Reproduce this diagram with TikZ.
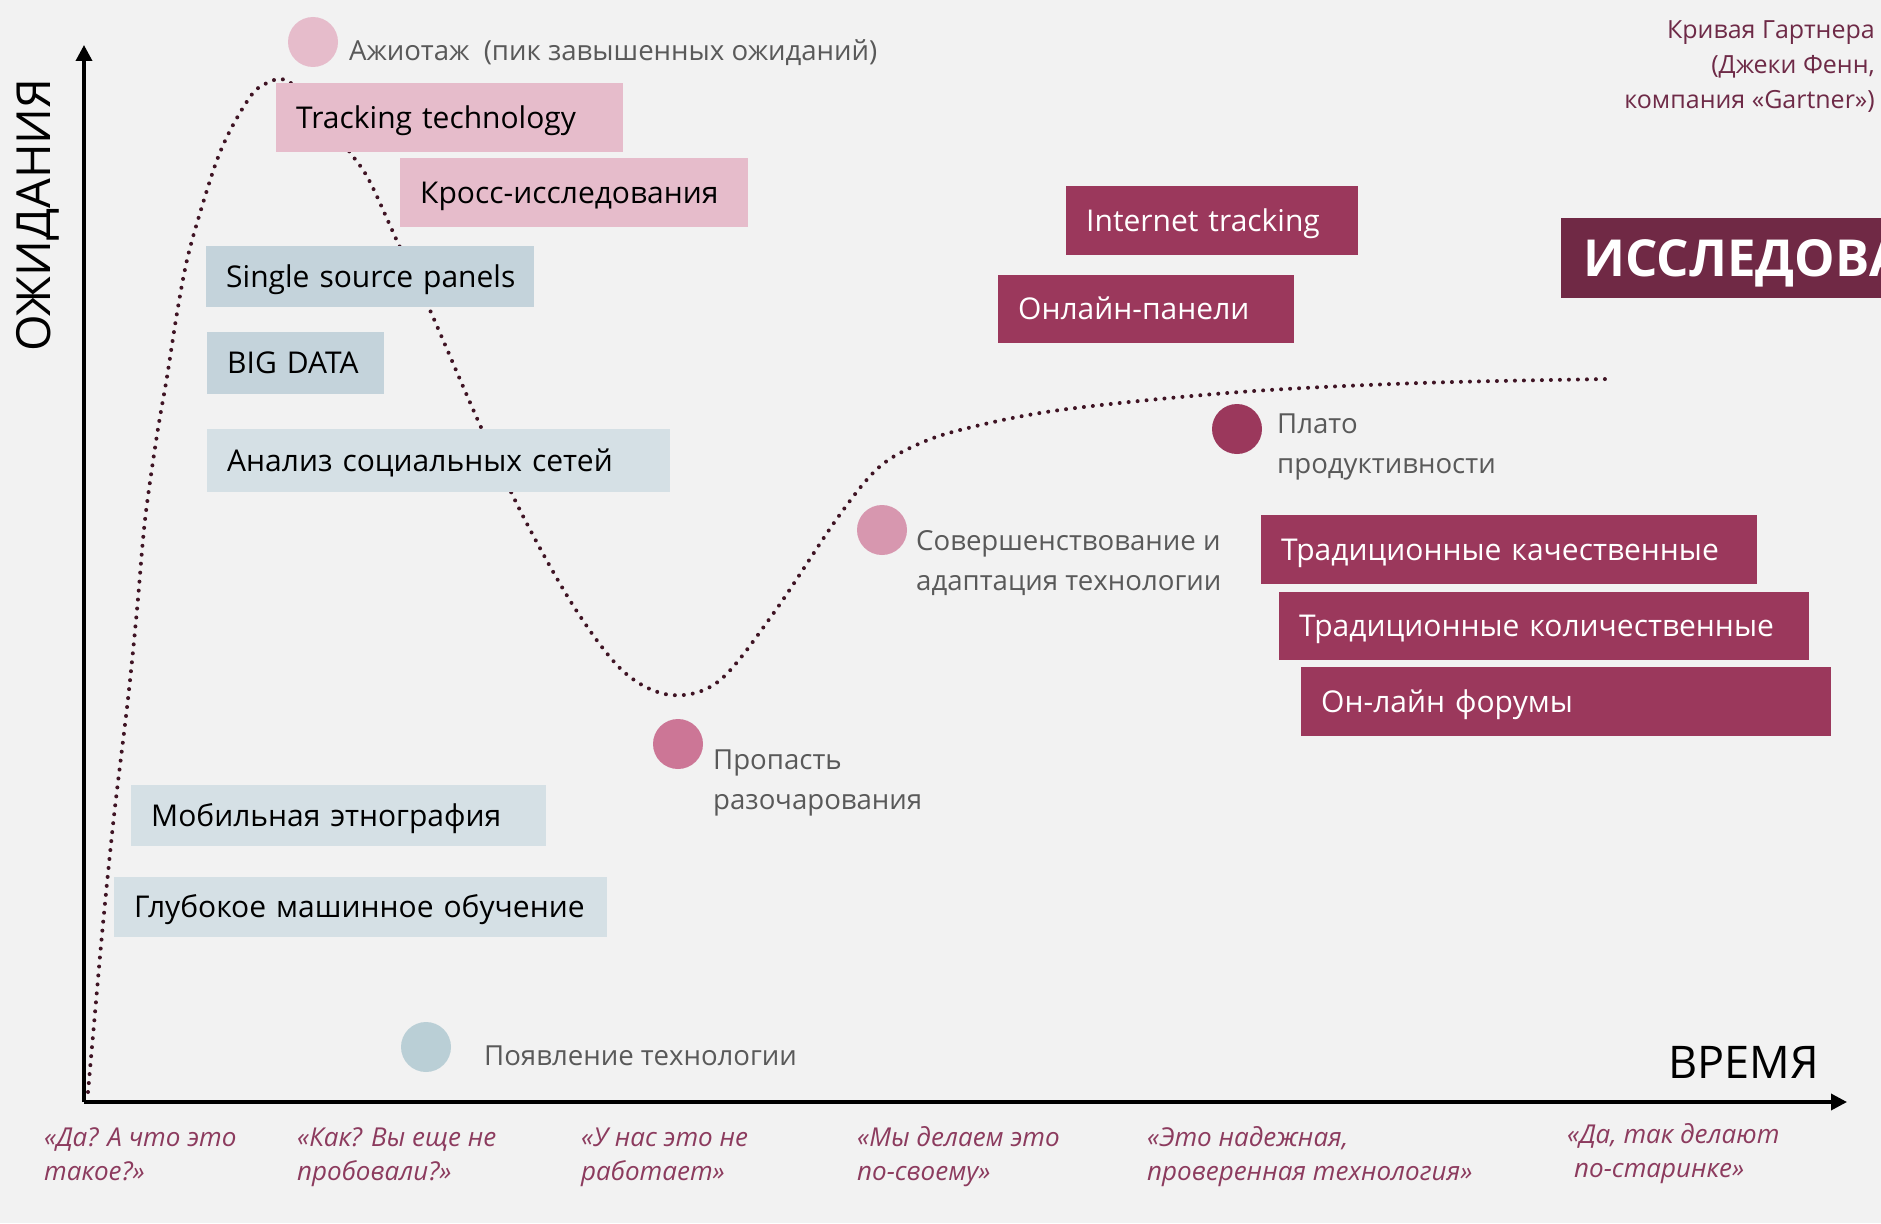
\documentclass[tikz,border=0pt]{standalone}
\usepackage{fontspec}
\setmainfont{Open Sans}
\usetikzlibrary{arrows.meta}
\definecolor{bgcol}{HTML}{F2F2F2}
\definecolor{pinkb}{HTML}{E6BCCB}
\definecolor{blued}{HTML}{C4D3DB}
\definecolor{bluel}{HTML}{D5E0E5}
\definecolor{maroon}{HTML}{9B385C}
\definecolor{darkm}{HTML}{702945}
\definecolor{quotec}{HTML}{8C3B5E}
\definecolor{capc}{HTML}{6E2A47}
\definecolor{grayt}{HTML}{595959}
\definecolor{dotc}{HTML}{3F1424}
\definecolor{cEmerg}{HTML}{BACFD6}
\definecolor{cTrough}{HTML}{CC7696}
\definecolor{cSlope}{HTML}{D797AF}
\newcommand{\twolines}[2]{\begin{tabular}[t]{@{}l@{}}#1\\#2\end{tabular}}
\tikzset{
  boxbase/.style={anchor=north west, inner xsep=20pt, inner ysep=0pt, align=left,
    text height=21.5pt, text depth=0pt, font=\fontsize{30}{34}\selectfont},
  pinkbox/.style={boxbase, fill=pinkb, text=black},
  bluedbox/.style={boxbase, fill=blued, text=black},
  bluelbox/.style={boxbase, fill=bluel, text=black},
  marbox/.style={boxbase, fill=maroon, text=white},
  lbl/.style={anchor=base west, inner sep=0pt, text=grayt, font=\fontsize{27.6}{40}\selectfont},
  quote/.style={anchor=base west, inner sep=0pt, text=quotec, font=\fontsize{26}{34}\itshape\selectfont},
  phase/.style={circle, inner sep=0pt, minimum size=50pt},
  axis/.style={line width=3.5pt, -{Triangle[length=16pt,width=16pt]}},
  hype/.style={dotc, line width=4pt, line cap=round, dash pattern=on 0pt off 9pt}
}
\begin{document}
\begin{tikzpicture}[x=1pt,y=-1pt]
\useasboundingbox (0,0) rectangle (1881,1223);
\fill[bgcol] (0,0) rectangle (1881,1223);

% hype curve
\draw[hype] plot[smooth, tension=0.55] coordinates {
 (88,1092) (95,1013) (103,924) (114,816) (128,699) (137,610) (145,520) (157,435)
 (167,377) (177,313) (187,260) (200,213) (217,160) (233,125) (253,93) (267,83)
 (280,79) (292,84) (318,112) (352,155) (370,182) (398,243) (429,308) (480,425)
 (525,520) (576,610) (624,672) (671,695) (719,681) (773,614) (836,520)
 (876,470) (912,447) (960,430) (1060,410) (1240,392) (1420,383) (1609,379)};

% axes
\coordinate (O) at (84,1102);
\coordinate (ytop) at (84,45);
\coordinate (xend) at (1847,1102);
\draw[axis] (O) -- (ytop);
\draw[axis] (O) -- (xend);

\node[rotate=90, inner sep=0pt, text height=34pt, text depth=0pt,
  font=\fontsize{47}{47}\selectfont] (ylab) at (33,215) {ОЖИДАНИЯ};
\node[anchor=base west, inner sep=0pt, font=\fontsize{45}{45}\selectfont] (xlab) at (1668,1078) {ВРЕМЯ};

% caption
\node[anchor=base east, inner sep=0pt, text=capc, font=\fontsize{25}{35}\selectfont] (cap) at (1875,39)
  {\begin{tabular}[t]{@{}r@{}}Кривая Гартнера\\(Джеки Фенн,\\компания «Gartner»)\end{tabular}};

% phase circles and labels
\node[phase, fill=pinkb] (c1) at (313,42) {};
\node[lbl] (l1) at (349,60) {Ажиотаж\ \ (пик завышенных ожиданий)};
\node[phase, fill=cEmerg] (c0) at (426,1047) {};
\node[lbl] (l0) at (484,1065) {Появление технологии};
\node[phase, fill=cTrough] (c2) at (678,744) {};
\node[lbl] (l2) at (713,769) {\twolines{Пропасть}{разочарования}};
\node[phase, fill=cSlope] (c3) at (882,530) {};
\node[lbl] (l3) at (916,550) {\twolines{Совершенствование и}{адаптация технологии}};
\node[phase, fill=maroon] (c4) at (1237,429) {};
\node[lbl] (l4) at (1277,433) {\twolines{Плато}{продуктивности}};

% boxes
\node[pinkbox, text width=307pt, minimum height=69pt] (b1) at (276,83) {Tracking technology};
\node[pinkbox, text width=308pt, minimum height=69pt] (b2) at (400,158) {Кросс-исследования};
\node[bluedbox, text width=288pt, minimum height=61pt] (b3) at (206,246) {\mbox{Single source panels}};
\node[bluedbox, text width=137pt, minimum height=62pt] (b4) at (207,332) {BIG DATA};
\node[bluelbox, text width=423pt, minimum height=63pt] (b5) at (207,429) {Анализ социальных сетей};
\node[bluelbox, text width=375pt, minimum height=61pt] (b6) at (131,785) {Мобильная этнография};
\node[bluelbox, text width=453pt, minimum height=60pt] (b7) at (114,877) {Глубокое машинное обучение};
\node[marbox, text width=252pt, minimum height=69pt] (b8) at (1066,186) {Internet tracking};
\node[marbox, text width=256pt, minimum height=68pt] (b9) at (998,275) {Онлайн-панели};
\node[marbox, text width=456pt, minimum height=69pt] (b10) at (1261,515) {Традиционные качественные};
\node[marbox, text width=490pt, minimum height=68pt] (b11) at (1279,592) {Традиционные количественные};
\node[marbox, text width=490pt, minimum height=69pt] (b12) at (1301,667) {Он-лайн форумы};

\begin{scope}
\clip (0,0) rectangle (1881,1223);
\node[anchor=north west, fill=darkm, text=white, inner xsep=22pt, inner ysep=0pt,
  minimum height=80pt, text height=37pt, text depth=0pt,
  font=\fontsize{51}{51}\bfseries\selectfont] (big) at (1561,218) {ИССЛЕДОВАНИЯ};
\end{scope}

% quotes
\node[quote] (q1) at (44,1146) {\twolines{«Да? А что это}{такое?»}};
\node[quote] (q2) at (297,1146) {\twolines{«Как? Вы еще не}{пробовали?»}};
\node[quote] (q3) at (581,1146) {\twolines{«У нас это не}{работает»}};
\node[quote] (q4) at (857,1146) {\twolines{«Мы делаем это}{по-своему»}};
\node[quote] (q5) at (1147,1146) {\twolines{«Это надежная,}{проверенная технология»}};
\node[quote] (q6) at (1567,1143) {\twolines{«Да, так делают}{\hspace{7pt}по-старинке»}};
\end{tikzpicture}
\end{document}
